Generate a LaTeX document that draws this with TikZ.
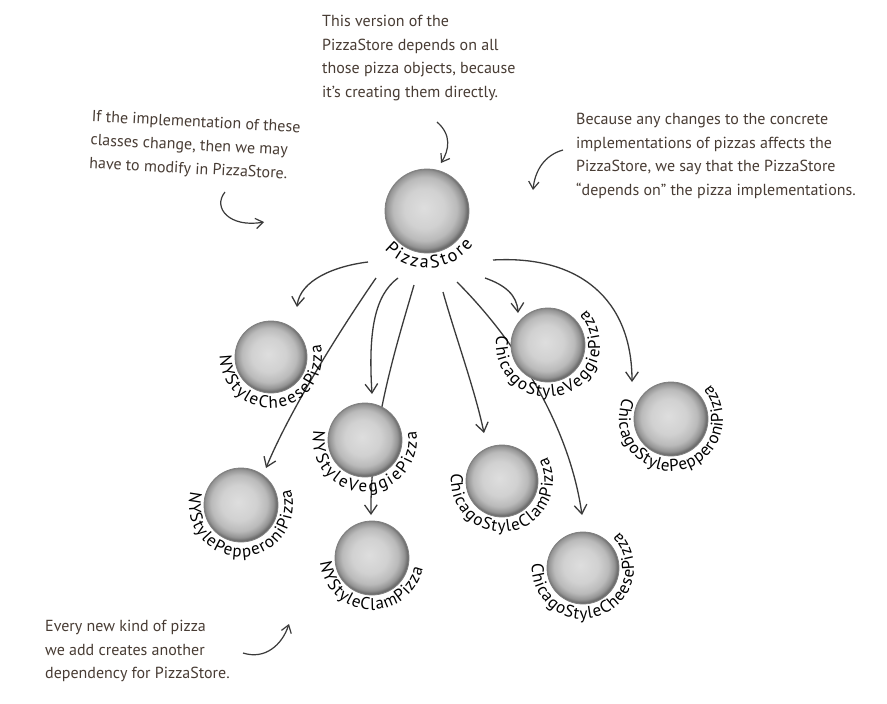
\documentclass[tikz,border=0pt]{standalone}
\usepackage{fontspec}
\setmainfont{PT Sans}
\newfontfamily\labfont{PT Sans}
\usetikzlibrary{arrows.meta,decorations.text}
\definecolor{notecol}{RGB}{72,60,52}
\definecolor{wire}{RGB}{58,58,58}
\pgfdeclareradialshading{ballshade}{\pgfpoint{-2bp}{2bp}}{color(0bp)=(black!13); color(12bp)=(black!18); color(19bp)=(black!27); color(23bp)=(black!42); color(25bp)=(black!58); color(50bp)=(black!58)}
\newcommand\arclabel[6]{%
  \path[decorate, decoration={text along path, text={|\labfont\fontsize{#6}{#6}\selectfont|#5}, text align={fit to path}}]
    ([shift={(#3:#2)}]#1.center) arc[start angle=#3, end angle=#4, radius=#2];}
\begin{document}
\begin{tikzpicture}[x=1pt,y=-1pt,
  ball/.style={circle, inner sep=0pt, shading=ballshade, draw=black!50, line width=0.8pt},
  link/.style={draw=wire, line width=1.3pt, -{Straight Barb[angle=70:11pt]}},
  notearrow/.style={draw=wire, line width=1.2pt, -{Straight Barb[angle=70:9pt]}},
  notetext/.style={anchor=north west, align=left, inner sep=0pt, text=notecol, font=\fontsize{16}{23.5}\selectfont}]
\useasboundingbox (0,0) rectangle (887,704);
\fill[white] (0,0) rectangle (887,704);

% annotations
\node[notetext] (n1) at (322,15) {This version of the\\PizzaStore depends on all\\those pizza objects, because\\it’s creating them directly.};
\node[notetext, rotate=-3] (n2) at (92,110) {If the implementation of these\\classes change, then we may\\have to modify in PizzaStore.};
\node[notetext] (n3) at (576,113) {Because any changes to the concrete\\implementations of pizzas affects the\\PizzaStore, we say that the PizzaStore\\“depends on” the pizza implementations.};
\node[notetext] (n4) at (45,620) {Every new kind of pizza\\we add creates another\\dependency for PizzaStore.};

% annotation arrows
\coordinate (t1s) at (437,122); \coordinate (t1e) at (441,163);
\coordinate (t2s) at (225,192); \coordinate (t2e) at (264,222);
\coordinate (t3s) at (563,150); \coordinate (t3e) at (533,190);
\coordinate (t4s) at (243,653); \coordinate (t4e) at (289,624);
\draw[notearrow] (t1s) .. controls (452,135) and (449,150) .. (t1e);
\draw[notearrow] (t2s) .. controls (212,208) and (230,228) .. (t2e);
\draw[notearrow] (t3s) .. controls (545,155) and (535,170) .. (t3e);
\draw[notearrow] (t4s) .. controls (265,660) and (282,645) .. (t4e);

% dependency arrows
\coordinate (as) at (368,262); \coordinate (ae) at (297,307);
\coordinate (bs) at (376,278); \coordinate (be) at (266,468);
\coordinate (cs) at (398,278); \coordinate (ce) at (372,394);
\coordinate (ds) at (414,285); \coordinate (de) at (371,515);
\coordinate (es) at (443,292); \coordinate (ee) at (484,433);
\coordinate (fs) at (457,282); \coordinate (fe) at (582,515);
\coordinate (gs) at (485,278); \coordinate (ge) at (518,313);
\coordinate (hs) at (493,260); \coordinate (he) at (632,382);
\draw[link] (as) .. controls (335,266) and (300,280) .. (ae);
\draw[link] (bs) .. controls (340,330) and (290,410) .. (be);
\draw[link] (cs) .. controls (375,295) and (368,330) .. (ce);
\draw[link] (ds) .. controls (395,350) and (370,430) .. (de);
\draw[link] (es) .. controls (455,335) and (475,390) .. (ee);
\draw[link] (fs) .. controls (520,345) and (570,430) .. (fe);
\draw[link] (gs) .. controls (505,285) and (517,295) .. (ge);
\draw[link] (hs) .. controls (580,255) and (632,300) .. (he);

% balls
\node[ball, minimum size=84pt] (ps) at (427,211) {};
\node[ball, minimum size=72pt] (nycheese) at (271,357) {};
\node[ball, minimum size=74pt] (nyveggie) at (365,440) {};
\node[ball, minimum size=74pt] (nypep) at (241,505) {};
\node[ball, minimum size=74pt] (nyclam) at (372,558) {};
\node[ball, minimum size=74pt] (chveggie) at (548,345) {};
\node[ball, minimum size=74pt] (chpep) at (671,419) {};
\node[ball, minimum size=72pt] (chclam) at (502,481) {};
\node[ball, minimum size=72pt] (chcheese) at (583,568) {};

% curved labels
\arclabel{ps}{57}{138}{36}{PizzaStore}{18}
\arclabel{nycheese}{51}{182}{-14}{NYStyleCheesePizza}{17}
\arclabel{nyveggie}{52}{190}{-10}{NYStyleVeggiePizza}{17}
\arclabel{nypep}{52}{195}{-18}{NYStylePepperoniPizza}{17}
\arclabel{nyclam}{52}{175}{12}{NYStyleClamPizza}{17}
\arclabel{chveggie}{52}{190}{-43}{ChicagoStyleVeggiePizza}{17}
\arclabel{chpep}{52}{204}{-41}{ChicagoStylePepperoniPizza}{17}
\arclabel{chclam}{51}{189}{-28}{ChicagoStyleClamPizza}{17}
\arclabel{chcheese}{51}{185}{-45}{ChicagoStyleCheesePizza}{17}
\end{tikzpicture}
\end{document}
